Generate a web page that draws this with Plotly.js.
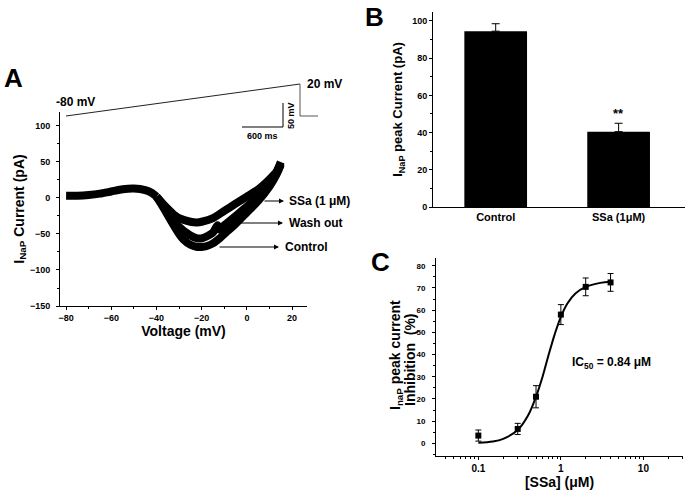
<!DOCTYPE html>
<html>
<head>
<meta charset="utf-8">
<script src="https://cdn.plot.ly/plotly-3.0.1.min.js"></script>
<style>body{margin:0;background:#fff}#myDiv{width:697px;height:492px}</style>
</head>
<body>
<div id="myDiv"></div>
<script>
// panel A: I-V traces
const voltCommon = [-80, -75, -70, -65, -60, -55, -50, -45, -42, -40];
const currCommon = [3, 3, 4, 6, 9, 12, 13, 11, 7, 2];
const voltControl = [-40, -38, -35, -32, -30, -28, -25, -22, -20, -18, -15, -12, -10, -5, 0, 5, 10, 13, 15];
const currControl = [2, -8, -24, -40, -50, -58, -65, -68, -68, -67, -63, -56, -50, -36, -20, -4, 16, 32, 46];
const voltWash = [-40, -38, -35, -32, -30, -25, -22, -20, -17, -15, -13, -12, -10, -5, 0, 5, 10, 13, 15];
const currWash = [2, -6, -20, -32, -40, -52, -56, -56, -52, -48, -38, -44, -38, -25, -12, 2, 20, 34, 48];
const voltSSa = [-40, -38, -35, -32, -30, -25, -22, -20, -15, -10, -5, 0, 5, 10, 13, 15];
const currSSa = [2, -5, -15, -24, -28, -33, -34, -33, -28, -18, -8, 2, 12, 26, 36, 50];

// panel B: peak current bars
const groups = ['Control', 'SSa (1μM)'];
const peakCurrent = [94.5, 40.5];
const peakErr = [4, 4.5];

// panel C: concentration-inhibition
const conc = [0.1, 0.3, 0.5, 1, 2, 4];
const inhibition = [3.5, 6.5, 21, 58, 70.5, 72.5];
const inhibErr = [2.5, 2.5, 5, 4.5, 4, 4];
const fitConc = [0.1, 0.15, 0.2, 0.3, 0.4, 0.5, 0.6, 0.7, 0.84, 1, 1.2, 1.5, 2, 3, 4];
const fitInhib = [0.3, 0.8, 2, 6, 12.5, 21, 30, 39, 49, 57, 63, 67.5, 70.5, 72.3, 72.8];

const font = 'Liberation Sans, Arial, sans-serif';
const W = 697, H = 492;
const px = v => v / W;
const py = v => 1 - v / H;

function traceA(xs, ys) {
  return {x: xs, y: ys, type: 'scatter', mode: 'lines', xaxis: 'x', yaxis: 'y',
    line: {color: '#000', width: 8, shape: 'spline', smoothing: 0.6}, hoverinfo: 'skip'};
}

var data = [
  traceA(voltCommon, currCommon),
  traceA(voltControl, currControl),
  traceA(voltWash, currWash),
  traceA(voltSSa, currSSa),
  {
    x: groups, y: peakCurrent, type: 'bar', xaxis: 'x2', yaxis: 'y2', width: 0.51,
    marker: {color: '#000'},
    error_y: {type: 'data', array: peakErr, arrayminus: [0, 0], symmetric: false, color: '#000', thickness: 1, width: 4}
  },
  {
    x: fitConc, y: fitInhib, type: 'scatter', mode: 'lines', xaxis: 'x3', yaxis: 'y3',
    line: {color: '#000', width: 2, shape: 'spline'}
  },
  {
    x: conc, y: inhibition, type: 'scatter', mode: 'markers', xaxis: 'x3', yaxis: 'y3',
    marker: {symbol: 'square', size: 6, color: '#000'},
    error_y: {type: 'data', array: inhibErr, color: '#000', thickness: 1, width: 3}
  }
];

const axBase = {
  showgrid: false, zeroline: false, showline: true, linecolor: '#000', linewidth: 1,
  ticks: 'outside', ticklen: 3, tickcolor: '#000',
  tickfont: {family: font, size: 9, color: '#000', weight: 'bold'}
};
const titleFont = s => ({family: font, size: s, color: '#000', weight: 'bold'});

// free text placed on the page
function label(text, x, y, size, extra) {
  return Object.assign({text: text, xref: 'paper', yref: 'paper', x: px(x), y: py(y),
    xanchor: 'center', yanchor: 'middle', showarrow: false,
    font: {family: font, size: size, color: '#000'}}, extra || {});
}
function arrow(x, y, len) {
  return {text: '', xref: 'paper', yref: 'paper', x: px(x), y: py(y), showarrow: true,
    ax: -len, ay: 0, arrowhead: 2, arrowsize: 1, arrowwidth: 1, arrowcolor: '#000'};
}

var layout = {
  width: W, height: H, showlegend: false,
  margin: {l: 0, r: 0, t: 0, b: 0},
  paper_bgcolor: '#fff', plot_bgcolor: 'rgba(0,0,0,0)',
  font: {family: font, color: '#000'},
  xaxis: Object.assign({}, axBase, {
    domain: [px(60), px(307)], range: [-82.7, 26.6], dtick: 20, anchor: 'y',
    minor: {ticks: 'outside', ticklen: 2, dtick: 10, tickcolor: '#000'},
    title: {text: 'Voltage (mV)', font: titleFont(14), standoff: 4}
  }),
  yaxis: Object.assign({}, axBase, {
    domain: [py(306), py(112)], range: [-150, 119.4], dtick: 50, anchor: 'x',
    ticklabelstandoff: 4,
    minor: {ticks: 'outside', ticklen: 2, dtick: 25, tickcolor: '#000'},
    title: {text: 'I<sub>NaP</sub> Current (pA)', font: titleFont(14), standoff: 2}
  }),
  xaxis2: Object.assign({}, axBase, {
    domain: [px(433), px(685)], range: [-0.51, 1.54], anchor: 'y2', ticks: '',
    tickfont: {family: font, size: 11, color: '#000', weight: 'bold'}
  }),
  yaxis2: Object.assign({}, axBase, {
    domain: [py(207), py(12)], range: [0, 104.8], dtick: 20, anchor: 'x2',
    minor: {ticks: 'outside', ticklen: 2, dtick: 10, tickcolor: '#000'},
    title: {text: 'I<sub>NaP</sub> peak Current (pA)', font: titleFont(13), standoff: 6}
  }),
  xaxis3: Object.assign({}, axBase, {
    domain: [px(436), px(683)], type: 'log', range: [-1.513, 1.48], dtick: 1, anchor: 'y3',
    minor: {ticks: 'outside', ticklen: 2, tickcolor: '#000'},
    tickfont: {family: font, size: 10, color: '#000', weight: 'bold'},
    title: {text: '[SSa] (μM)', font: titleFont(14), standoff: 4}
  }),
  yaxis3: Object.assign({}, axBase, {
    domain: [py(456), py(258)], range: [-5.7, 83.5], dtick: 10, anchor: 'x3',
    ticklabelstandoff: 5,
    minor: {ticks: 'outside', ticklen: 2, dtick: 5, tickcolor: '#000'},
    tickfont: {family: font, size: 8, color: '#000', weight: 'bold'}
  }),
  shapes: [
    // voltage ramp protocol
    {type: 'line', xref: 'paper', yref: 'paper', x0: px(66), y0: py(116), x1: px(300), y1: py(84), line: {color: '#222', width: 1}},
    {type: 'line', xref: 'paper', yref: 'paper', x0: px(300), y0: py(84), x1: px(300), y1: py(116), line: {color: '#555', width: 1}},
    {type: 'line', xref: 'paper', yref: 'paper', x0: px(300), y0: py(116), x1: px(318), y1: py(116), line: {color: '#555', width: 1}},
    // scale bar
    {type: 'line', xref: 'paper', yref: 'paper', x0: px(242), y0: py(127), x1: px(283), y1: py(127), line: {color: '#000', width: 1}},
    {type: 'line', xref: 'paper', yref: 'paper', x0: px(283), y0: py(127), x1: px(283), y1: py(103), line: {color: '#000', width: 1}}
  ],
  annotations: [
    label('<b>A</b>', 14, 78, 26),
    label('<b>B</b>', 374, 17, 26),
    label('<b>C</b>', 380, 262, 26),
    label('<b>-80 mV</b>', 75, 102, 12),
    label('<b>20 mV</b>', 324, 84, 12),
    label('<b>600 ms</b>', 262, 136, 9),
    label('<b>50 mV</b>', 291, 116, 9, {textangle: -90}),
    arrow(284, 201, 21),
    label('<b>SSa (1 μM)</b>', 287, 201, 12, {xanchor: 'left'}),
    arrow(283, 223, 51),
    label('<b>Wash out</b>', 287, 223, 12, {xanchor: 'left'}),
    arrow(279, 247, 61),
    label('<b>Control</b>', 283, 247, 12, {xanchor: 'left'}),
    {text: '<b>**</b>', xref: 'x2', yref: 'y2', x: 1, y: 50, showarrow: false, font: {family: font, size: 13, color: '#000'}},
    label('<b>IC<sub>50</sub> = 0.84 μM</b>', 611, 363, 12),
    label('<b>I<sub>naP</sub> peak current</b>', 396, 355, 14, {textangle: -90}),
    label('<b>Inhibition  (%)</b>', 410, 360, 14, {textangle: -90})
  ]
};

Plotly.newPlot('myDiv', data, layout, {staticPlot: true});
</script>
</body>
</html>
